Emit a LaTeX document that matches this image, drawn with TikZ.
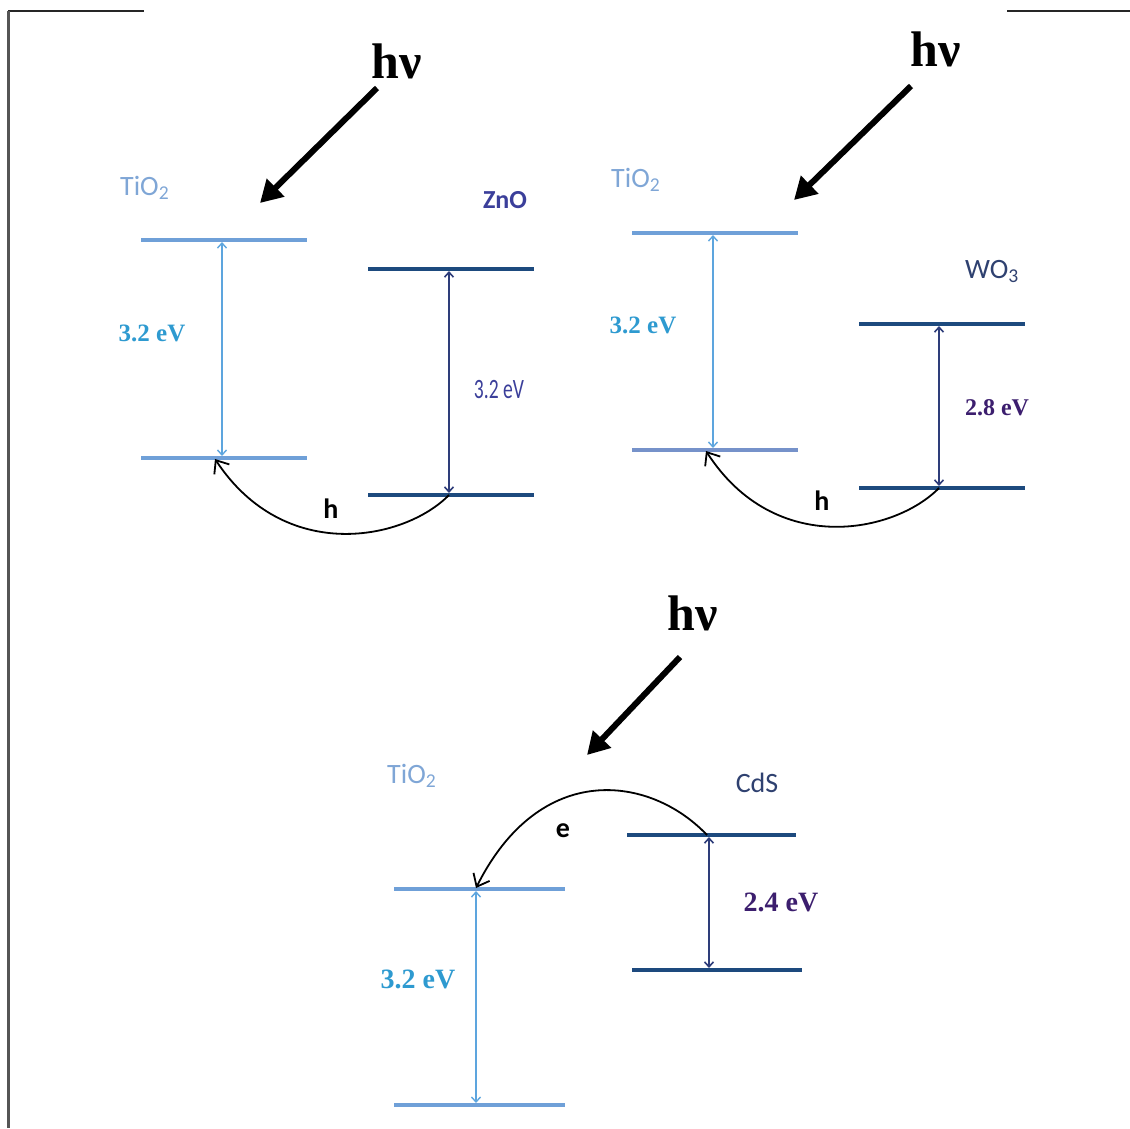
\documentclass[tikz,border=0pt]{standalone}
\usepackage{fontspec}
\setmainfont{Liberation Serif}
\newfontfamily\calfont{Carlito}
\usetikzlibrary{arrows.meta}
\definecolor{tiocol}{HTML}{6FA0D8}
\definecolor{tioarr}{HTML}{5DA5DE}
\definecolor{tiotext}{HTML}{7FA6D6}
\definecolor{tioev}{HTML}{2E9AD0}
\definecolor{navcol}{HTML}{1D4A7E}
\definecolor{navarr}{HTML}{2E3D7A}
\definecolor{navtext}{HTML}{2F4170}
\definecolor{znotext}{HTML}{3B3F9A}
\definecolor{purpev}{HTML}{3C1E6E}
\definecolor{framecol}{HTML}{555555}
\begin{document}
\begin{tikzpicture}[x=1pt,y=-1pt,
  tiolevel/.style={line width=4pt, draw=tiocol},
  navlevel/.style={line width=4pt, draw=navcol},
  gapT/.style={draw=tioarr, line width=1.4pt, shorten <=2pt, shorten >=2pt,
     {Straight Barb[length=5pt,width=9pt]}-{Straight Barb[length=5pt,width=9pt]}},
  gapN/.style={draw=navarr, line width=1.6pt, shorten <=2pt, shorten >=2pt,
     {Straight Barb[length=5pt,width=9pt]}-{Straight Barb[length=5pt,width=9pt]}},
  photon/.style={line width=6pt, -{Triangle[length=22pt,width=24pt]}},
  transfer/.style={line width=1.8pt, -{Straight Barb[length=11pt,width=18pt]}},
  hnu/.style={font=\fontsize{50}{55}\selectfont\bfseries, inner sep=0pt, anchor=base},
  tiolab/.style={font=\calfont\fontsize{28}{30}\selectfont, text=tiotext, inner sep=0pt, anchor=base west},
  navlab/.style={font=\calfont\fontsize{28}{30}\selectfont, text=navtext, inner sep=0pt},
  evT/.style={font=\bfseries, text=tioev, inner sep=0pt},
  evP/.style={font=\bfseries, text=purpev, inner sep=0pt},
  carrier/.style={font=\calfont\bfseries\fontsize{28}{30}\selectfont, inner sep=0pt}]
\useasboundingbox (0,0) rectangle (1130,1128);
% frame
\coordinate (f1) at (8,11); \coordinate (f2) at (144,11);
\coordinate (f3) at (8,1128); \coordinate (f4) at (1007,11); \coordinate (f5) at (1130,11);
\draw[line width=2pt, draw=black!85] (f1) -- (f2);
\draw[line width=3pt, draw=framecol] (f1) -- (f3);
\draw[line width=2pt, draw=black!85] (f4) -- (f5);

% ===== panel 1: TiO2 / ZnO =====
\node[hnu] (hv1) at (397,78) {hν};
\coordinate (ph1s) at (377,88); \coordinate (ph1e) at (260,203);
\draw[photon] (ph1s) -- (ph1e);
\node[tiolab] (t1) at (120,195) {TiO\textsubscript{2}};
\coordinate (t1cbL) at (141,240); \coordinate (t1cbR) at (307,240);
\coordinate (t1vbL) at (141,458); \coordinate (t1vbR) at (307,458);
\draw[tiolevel] (t1cbL) -- (t1cbR);
\draw[tiolevel] (t1vbL) -- (t1vbR);
\coordinate (t1g1) at (222,240); \coordinate (t1g2) at (222,458);
\draw[gapT] (t1g1) -- (t1g2);
\node[evT, font=\bfseries\fontsize{25}{28}\selectfont] (ev1) at (152,333) {3.2 eV};
\node[navlab, font=\calfont\bfseries\fontsize{26}{28}\selectfont, text=znotext] (zno) at (505,200) {ZnO};
\coordinate (zcbL) at (368,269); \coordinate (zcbR) at (534,269);
\coordinate (zvbL) at (368,495); \coordinate (zvbR) at (534,495);
\draw[navlevel] (zcbL) -- (zcbR);
\draw[navlevel] (zvbL) -- (zvbR);
\coordinate (zg1) at (449,269); \coordinate (zg2) at (449,495);
\draw[gapN] (zg1) -- (zg2);
\node[inner sep=0pt, text=znotext] (ev2) at (499,390) {\scalebox{0.7}[1]{\calfont\fontsize{28}{30}\selectfont 3.2 eV}};
\coordinate (h1s) at (449,495); \coordinate (h1e) at (215,459);
\draw[transfer] (h1s) .. controls (405,540) and (285,565) .. (h1e);
\node[carrier] (h1) at (331,509) {h};

% ===== panel 2: TiO2 / WO3 =====
\node[hnu] (hv2) at (936,66) {hν};
\coordinate (ph2s) at (911,86); \coordinate (ph2e) at (794,200);
\draw[photon] (ph2s) -- (ph2e);
\node[tiolab] (t2) at (611,187) {TiO\textsubscript{2}};
\coordinate (t2cbL) at (632,233); \coordinate (t2cbR) at (798,233);
\coordinate (t2vbL) at (632,450); \coordinate (t2vbR) at (798,450);
\draw[tiolevel] (t2cbL) -- (t2cbR);
\draw[tiolevel, draw=tiocol!85!purple!60!tiocol] (t2vbL) -- (t2vbR);
\coordinate (t2g1) at (713,233); \coordinate (t2g2) at (713,450);
\draw[gapT] (t2g1) -- (t2g2);
\node[evT, font=\bfseries\fontsize{25}{28}\selectfont] (ev3) at (643,325) {3.2 eV};
\node[navlab, anchor=base west] (wo3) at (965,278) {WO\textsubscript{3}};
\coordinate (wcbL) at (859,324); \coordinate (wcbR) at (1025,324);
\coordinate (wvbL) at (859,488); \coordinate (wvbR) at (1025,488);
\draw[navlevel] (wcbL) -- (wcbR);
\draw[navlevel] (wvbL) -- (wvbR);
\coordinate (wg1) at (939,324); \coordinate (wg2) at (939,488);
\draw[gapN] (wg1) -- (wg2);
\node[evP, font=\bfseries\fontsize{24}{27}\selectfont] (ev4) at (997,408) {2.8 eV};
\coordinate (h2s) at (939,488); \coordinate (h2e) at (706,451);
\draw[transfer] (h2s) .. controls (895,533) and (775,558) .. (h2e);
\node[carrier] (h2) at (822,501) {h};

% ===== panel 3: TiO2 / CdS =====
\node[hnu] (hv3) at (693,630) {hν};
\coordinate (ph3s) at (680,657); \coordinate (ph3e) at (587,755);
\draw[photon] (ph3s) -- (ph3e);
\node[tiolab] (t3) at (387,783) {TiO\textsubscript{2}};
\coordinate (t3cbL) at (394,889); \coordinate (t3cbR) at (565,889);
\coordinate (t3vbL) at (394,1105); \coordinate (t3vbR) at (565,1105);
\draw[tiolevel] (t3cbL) -- (t3cbR);
\draw[tiolevel] (t3vbL) -- (t3vbR);
\coordinate (t3g1) at (476,889); \coordinate (t3g2) at (476,1105);
\draw[gapT] (t3g1) -- (t3g2);
\node[evT, font=\bfseries\fontsize{28}{31}\selectfont] (ev5) at (418,979) {3.2 eV};
\node[navlab] (cds) at (757,783) {CdS};
\coordinate (ccbL) at (627,835); \coordinate (ccbR) at (796,835);
\coordinate (cvbL) at (632,970); \coordinate (cvbR) at (802,970);
\draw[navlevel] (ccbL) -- (ccbR);
\draw[navlevel] (cvbL) -- (cvbR);
\coordinate (cg1) at (709,835); \coordinate (cg2) at (709,970);
\draw[gapN] (cg1) -- (cg2);
\node[evP, font=\bfseries\fontsize{28}{31}\selectfont] (ev6) at (781,902) {2.4 eV};
\coordinate (e1s) at (707,835); \coordinate (e1e) at (476,888);
\draw[transfer] (e1s) .. controls (650,775) and (540,760) .. (e1e);
\node[carrier] (e1) at (563,831) {e};
\end{tikzpicture}
\end{document}
